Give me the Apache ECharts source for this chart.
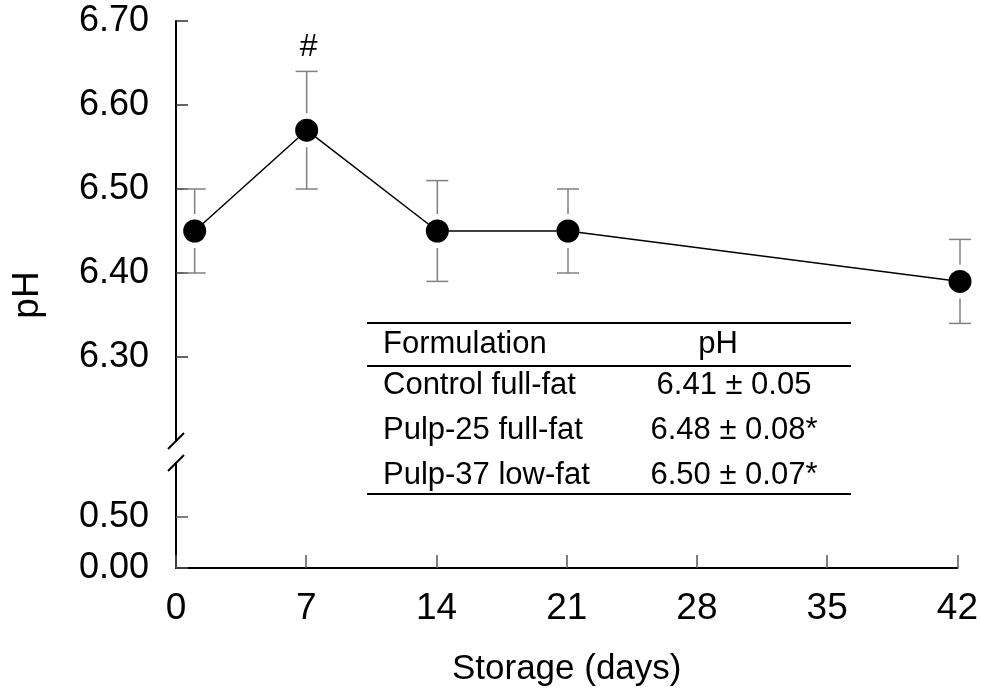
<!DOCTYPE html>
<html>
<head>
<meta charset="utf-8">
<title>pH during storage</title>
<script src="https://cdn.jsdelivr.net/npm/echarts@6.0.0/dist/echarts.min.js"></script>
<style>
  html, body { margin: 0; padding: 0; background: #fff; }
  #chart { width: 981px; height: 696px; }
</style>
</head>
<body>
<div id="chart"></div>
<script>
  // storage days and pH (mean, lower / upper error bar ends)
  const days = [1, 7, 14, 21, 42];
  const phMean = [6.45, 6.57, 6.45, 6.45, 6.39];
  const phLow = [6.40, 6.50, 6.39, 6.40, 6.34];
  const phHigh = [6.50, 6.64, 6.51, 6.50, 6.44];
  const sigMarks = ['', '#', '', '', ''];

  // axis ticks
  const xTicks = [0, 7, 14, 21, 28, 35, 42];
  const upperTicks = [6.3, 6.4, 6.5, 6.6, 6.7];
  const lowerTicks = [0, 0.5];

  // inset table
  const tableHeader = ['Formulation', 'pH'];
  const tableNames = ['Control full-fat', 'Pulp-25 full-fat', 'Pulp-37 low-fat'];
  const tableValues = ['6.41 \u00b1 0.05', '6.48 \u00b1 0.08*', '6.50 \u00b1 0.07*'];

  const FONT = '"Liberation Sans", Arial, Helvetica, sans-serif';
  const BAR_COLOR = '#808080';

  const chartInit = () => {
    const chartEl = document.getElementById('chart');
    const chart = echarts.init(chartEl, null, { renderer: 'canvas' });

    const errData = days.map((d, i) => [d, phLow[i], phHigh[i], phMean[i]]);

    const renderErrorBar = (params, api) => {
      const x = api.value(0);
      const top = api.coord([x, api.value(2)]);
      const bot = api.coord([x, api.value(1)]);
      const mid = api.coord([x, api.value(3)]);
      const style = { stroke: BAR_COLOR, lineWidth: 1.5 };
      const children = [
        { type: 'line', shape: { x1: top[0] - 11, y1: top[1], x2: top[0] + 11, y2: top[1] }, style },
        { type: 'line', shape: { x1: top[0], y1: top[1], x2: top[0], y2: mid[1] - 17 }, style },
        { type: 'line', shape: { x1: bot[0], y1: mid[1] + 17, x2: bot[0], y2: bot[1] }, style },
        { type: 'line', shape: { x1: bot[0] - 11, y1: bot[1], x2: bot[0] + 11, y2: bot[1] }, style }
      ];
      const mark = sigMarks[params.dataIndex];
      if (mark) {
        children.push({
          type: 'text',
          x: top[0] + 2,
          y: top[1] - 24,
          style: {
            text: mark,
            fontSize: 32,
            fontFamily: FONT,
            fill: '#000',
            align: 'center',
            verticalAlign: 'middle'
          }
        });
      }
      return { type: 'group', children };
    };

    const tableGraphics = () => {
      const left = 367;
      const right = 851;
      const rowY = [385, 430, 475];
      const line = y => ({
        type: 'line',
        shape: { x1: left, y1: y, x2: right, y2: y },
        style: { stroke: '#000', lineWidth: 2 }
      });
      const text = (str, x, y, align) => ({
        type: 'text',
        x,
        y,
        style: {
          text: str,
          fontSize: 31,
          fontFamily: FONT,
          fill: '#000',
          align,
          verticalAlign: 'middle'
        }
      });
      const items = [
        line(323),
        line(366),
        line(494),
        text(tableHeader[0], 383, 344, 'left'),
        text(tableHeader[1], 718, 344, 'center')
      ];
      tableNames.forEach((name, i) => {
        items.push(text(name, 383, rowY[i], 'left'));
        items.push(text(tableValues[i], 734, rowY[i], 'center'));
      });
      return items;
    };

    const yLabel = ticks => ({
      color: '#000',
      fontFamily: FONT,
      fontSize: 36,
      margin: 27,
      padding: [9, 0, 0, 0],
      customValues: ticks,
      formatter: v => v.toFixed(2)
    });

    const option = {
      animation: false,
      textStyle: { fontFamily: FONT },
      grid: [
        { left: 176, right: 21, top: 21, height: 420 },
        { left: 176, right: 21, top: 463, height: 105 }
      ],
      xAxis: [
        {
          type: 'value',
          gridIndex: 0,
          min: 0,
          max: 42,
          interval: 7,
          show: false
        },
        {
          type: 'value',
          gridIndex: 1,
          min: 0,
          max: 42,
          interval: 7,
          axisLine: { lineStyle: { color: '#000', width: 2 } },
          axisTick: {
            inside: true,
            length: 13,
            customValues: xTicks,
            lineStyle: { color: '#555', width: 1.5 }
          },
          axisLabel: {
            color: '#000',
            fontFamily: FONT,
            fontSize: 37,
            margin: 22,
            customValues: xTicks
          },
          splitLine: { show: false },
          name: 'Storage (days)',
          nameLocation: 'middle',
          nameGap: 84,
          nameTextStyle: { color: '#000', fontSize: 35, fontFamily: FONT }
        }
      ],
      yAxis: [
        {
          type: 'value',
          gridIndex: 0,
          min: 6.2,
          max: 6.7,
          axisLine: { show: true, onZero: false, lineStyle: { color: '#000', width: 2 } },
          axisTick: {
            show: true,
            inside: true,
            length: 12,
            customValues: upperTicks,
            lineStyle: { color: '#333', width: 1.5 }
          },
          axisLabel: yLabel(upperTicks),
          splitLine: { show: false }
        },
        {
          type: 'value',
          gridIndex: 1,
          min: 0,
          max: 1.03,
          axisLine: { show: true, onZero: false, lineStyle: { color: '#000', width: 2 } },
          axisTick: {
            show: true,
            inside: true,
            length: 12,
            customValues: lowerTicks,
            lineStyle: { color: '#555', width: 1.5 }
          },
          axisLabel: yLabel(lowerTicks),
          splitLine: { show: false }
        }
      ],
      series: [
        {
          name: 'error',
          type: 'custom',
          xAxisIndex: 0,
          yAxisIndex: 0,
          renderItem: renderErrorBar,
          data: errData,
          z: 1
        },
        {
          name: 'pH',
          type: 'line',
          xAxisIndex: 0,
          yAxisIndex: 0,
          data: days.map((d, i) => [d, phMean[i]]),
          symbol: 'circle',
          symbolSize: 23,
          lineStyle: { color: '#000', width: 1.5 },
          itemStyle: { color: '#000' },
          z: 3
        }
      ]
    };

    chart.setOption(option);

    // axis break marks at the ends of the two y axis pieces
    const upperEnd = chart.convertToPixel({ gridIndex: 0 }, [0, 6.2]);
    const lowerEnd = chart.convertToPixel({ gridIndex: 1 }, [0, 1.03]);
    const slash = p => ({
      type: 'line',
      shape: { x1: p[0] - 8, y1: p[1] + 8, x2: p[0] + 8, y2: p[1] - 8 },
      style: { stroke: '#000', lineWidth: 2 }
    });

    chart.setOption({
      graphic: [
        slash(upperEnd),
        slash(lowerEnd),
        {
          type: 'text',
          x: 28,
          y: 295,
          rotation: Math.PI / 2,
          style: {
            text: 'pH',
            fontSize: 37,
            fontFamily: FONT,
            fill: '#000',
            align: 'center',
            verticalAlign: 'middle'
          }
        },
        ...tableGraphics()
      ]
    });
  };

  chartInit();
</script>
</body>
</html>
